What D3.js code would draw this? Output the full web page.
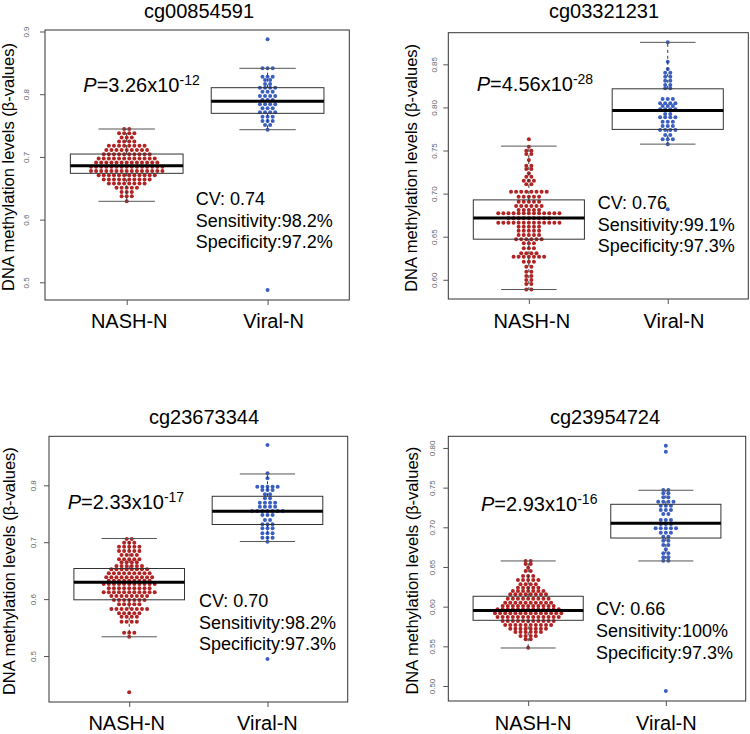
<!DOCTYPE html>
<html><head><meta charset="utf-8">
<script src="https://cdn.jsdelivr.net/npm/d3@7/dist/d3.min.js"></script>
<style>body{margin:0;background:#fff}svg{display:block}</style>
</head><body><svg id="chart" width="750" height="734"></svg>
<script>
// ---------- DATA ----------
const groups = ["NASH-N", "Viral-N"];
const probes = ["cg00854591", "cg03321231", "cg23673344", "cg23954724"];
const pMantissa = ["3.26", "4.56", "2.33", "2.93"];
const pExponent = ["-12", "-28", "-17", "-16"];
const cvValues = ["0.74", "0.76", "0.70", "0.66"];
const sensitivity = ["98.2%", "99.1%", "98.2%", "100%"];
const specificity = ["97.2%", "97.3%", "97.3%", "97.3%"];
const yTicks = [[0.5,0.6,0.7,0.8,0.9],[0.60,0.65,0.70,0.75,0.80,0.85],[0.5,0.6,0.7,0.8],[0.50,0.55,0.60,0.65,0.70,0.75,0.80]];
const yTickFormats = [".1f", ".2f", ".1f", ".2f"];
const yDomains = [[0.4718,0.9024],[0.5777,0.8867],[0.4192,0.8861],[0.4811,0.8147]];

// box statistics: [lower whisker, Q1, median, Q3, upper whisker]
const nashBox = [[0.6292,0.6738,0.686,0.7046,0.7445],[0.5887,0.6471,0.6718,0.6927,0.7551],[0.5338,0.5988,0.6297,0.6538,0.7065],[0.5479,0.5828,0.595,0.6131,0.6576]];
const viralBox = [[0.7434,0.7695,0.7887,0.8104,0.8413],[0.7574,0.7745,0.7965,0.8216,0.8755],[0.7012,0.7311,0.7543,0.7807,0.8199],[0.6576,0.6865,0.705,0.729,0.7467]];

// beeswarm rows: methylation value of each row and number of samples in it
const nashValues1 = [0.7445,0.7378,0.7311,0.7244,0.7177,0.7110,0.7043,0.6976,0.6909,0.6842,0.6775,0.6708,0.6641,0.6574,0.6507,0.6440,0.6373,0.6292];
const nashCounts1 = [2,4,3,4,8,9,10,12,13,15,15,12,10,8,5,3,3,1];
const viralValues1 = [0.8876,0.8413,0.8279,0.8226,0.8163,0.8104,0.8040,0.7971,0.7907,0.7839,0.7775,0.7711,0.7641,0.7573,0.7509,0.7434,0.4877];
const viralCounts1 = [1,3,3,2,2,4,3,4,3,4,3,4,3,3,2,1,1];

const nashValues2 = [0.7630,0.7544,0.7498,0.7459,0.7390,0.7324,0.7285,0.7235,0.7196,0.7150,0.7108,0.7022,0.6964,0.6906,0.6856,0.6810,0.6771,0.6713,0.6662,0.6616,0.6570,0.6520,0.6470,0.6423,0.6365,0.6307,0.6268,0.6210,0.6152,0.6094,0.6044,0.5998,0.5950,0.5887];
const nashCounts2 = [1,1,2,2,1,2,2,1,2,3,2,8,5,5,6,5,13,9,13,5,5,5,6,3,3,4,7,3,2,2,2,2,2,2];
const viralValues2 = [0.8755,0.8530,0.8445,0.8403,0.8356,0.8310,0.8260,0.8222,0.8097,0.8048,0.8016,0.7978,0.7923,0.7885,0.7834,0.7784,0.7738,0.7680,0.7630,0.7572,0.6818];
const viralCounts2 = [1,1,1,2,2,2,2,2,3,4,3,4,2,4,3,3,4,2,3,1,1];

const nashValues3 = [0.7056,0.6991,0.6921,0.6845,0.6775,0.6699,0.6647,0.6582,0.6524,0.6453,0.6383,0.6323,0.6265,0.6190,0.6120,0.6054,0.5984,0.5909,0.5826,0.5750,0.5691,0.5603,0.5409,0.5339,0.4362];
const nashCounts3 = [2,3,5,5,4,5,4,6,8,9,10,9,11,9,11,8,7,5,8,5,4,4,3,1,1];
const viralValues3 = [0.8708,0.8211,0.8123,0.7975,0.7917,0.7842,0.7772,0.7694,0.7624,0.7548,0.7478,0.7390,0.7315,0.7244,0.7156,0.7079,0.7009,0.4947];
const viralCounts3 = [1,1,1,5,3,2,2,4,4,7,3,2,3,3,3,3,1,1];

const nashValues4 = [0.6576,0.6538,0.6491,0.6450,0.6387,0.6336,0.6282,0.6239,0.6197,0.6156,0.6100,0.6050,0.6008,0.5967,0.5916,0.5870,0.5819,0.5769,0.5722,0.5681,0.5630,0.5589,0.5483];
const nashCounts4 = [2,2,1,2,3,5,4,5,7,8,9,10,11,13,14,13,11,10,8,6,4,2,1];
const viralValues4 = [0.8029,0.7953,0.7471,0.7429,0.7379,0.7323,0.7273,0.7218,0.7168,0.7092,0.7042,0.6988,0.6932,0.6882,0.6831,0.6777,0.6723,0.6673,0.6622,0.6579,0.4937];
const viralCounts4 = [1,1,2,2,2,4,3,3,2,3,3,5,3,2,2,2,1,2,2,2,1];

// ---------- LAYOUT ----------
const layout = [
  {x0:45,   x1:349.3, y0:30,    y1:300, titleX:199, titleY:17.5,  yTitleX:8.3,   tickLabX:26.5,  pX:83.3,  pY:92,    statX:195.7, statY:205,   xLabY:328.3, xLabDx:[2,5.5]},
  {x0:448.3,x1:748.3, y0:32.7,  y1:299, titleX:604, titleY:18,    yTitleX:410.8, tickLabX:434.3, pX:476.7, pY:90.5,  statX:597.7, statY:209,   xLabY:328.3, xLabDx:[2.4,5.7]},
  {x0:49,   x1:347.7, y0:436.3, y1:702, titleX:204, titleY:423.7, yTitleX:9.5,   tickLabX:32.8,  pX:67.7,  pY:508.7, statX:199,   statY:607,   xLabY:730,   xLabDx:[-3,-0.6]},
  {x0:448.3,x1:745.7, y0:436.3, y1:701, titleX:605, titleY:423.7, yTitleX:412.5, tickLabX:432,   pX:481,   pY:511,   statX:596,   statY:615.3, xLabY:730,   xLabDx:[4.4,0]}
];
const FONT = "'Liberation Sans', Arial, Helvetica, sans-serif";
const colors = ["#b22424", "#3a5fc0"];
const R = 2.0, SX = 5.1;

const swarms = [
  [{v:nashValues1,c:nashCounts1},{v:viralValues1,c:viralCounts1}],
  [{v:nashValues2,c:nashCounts2},{v:viralValues2,c:viralCounts2}],
  [{v:nashValues3,c:nashCounts3},{v:viralValues3,c:viralCounts3}],
  [{v:nashValues4,c:nashCounts4},{v:viralValues4,c:viralCounts4}]
];

const svg = d3.select("#chart").style("font-family", FONT);

layout.forEach((L, p) => {
  const g = svg.append("g");
  const x = d3.scaleLinear().domain([0.42, 2.58]).range([L.x0, L.x1]);
  const y = d3.scaleLinear().domain(yDomains[p]).range([L.y1, L.y0]);

  // dots (beeswarm rows, centered)
  swarms[p].forEach((s, gi) => {
    const pts = [];
    s.v.forEach((val, ri) => {
      const n = s.c[ri];
      for (let i = 0; i < n; i++) pts.push({val, off: (i - (n - 1) / 2) * SX});
    });
    g.append("g").selectAll("circle").data(pts).join("circle")
      .attr("cx", d => x(gi + 1) + d.off)
      .attr("cy", d => y(d.val))
      .attr("r", R)
      .attr("fill", colors[gi]);
  });

  // boxes
  [nashBox[p], viralBox[p]].forEach((b, gi) => {
    const cx = x(gi + 1), hw = x(1.4) - x(1), cw = x(1.2) - x(1);
    const bg = g.append("g");
    bg.append("line").attr("x1", cx).attr("x2", cx).attr("y1", y(b[3])).attr("y2", y(b[4]))
      .attr("stroke", "#333").attr("stroke-dasharray", "3,3");
    bg.append("line").attr("x1", cx).attr("x2", cx).attr("y1", y(b[1])).attr("y2", y(b[0]))
      .attr("stroke", "#333").attr("stroke-dasharray", "3,3");
    [b[0], b[4]].forEach(v => bg.append("line").attr("x1", cx - cw).attr("x2", cx + cw)
      .attr("y1", y(v)).attr("y2", y(v)).attr("stroke", "#555").attr("stroke-width", 1));
    bg.append("rect").attr("x", cx - hw).attr("width", 2 * hw)
      .attr("y", y(b[3])).attr("height", y(b[1]) - y(b[3]))
      .attr("fill", "none").attr("stroke", "#333").attr("stroke-width", 1);
    bg.append("line").attr("x1", cx - hw).attr("x2", cx + hw).attr("y1", y(b[2])).attr("y2", y(b[2]))
      .attr("stroke", "#000").attr("stroke-width", 3);
  });

  // frame
  g.append("rect").attr("x", L.x0).attr("y", L.y0).attr("width", L.x1 - L.x0).attr("height", L.y1 - L.y0)
    .attr("fill", "none").attr("stroke", "#333").attr("stroke-width", 1);

  // y axis
  const ya = g.append("g").attr("transform", `translate(${L.x0},0)`)
    .call(d3.axisLeft(y).tickValues(yTicks[p]).tickSize(5).tickFormat(d3.format(yTickFormats[p])));
  ya.select(".domain").remove();
  ya.selectAll("line").attr("stroke", "#555");
  ya.selectAll("text").attr("x", 0).attr("y", 0).attr("dy", "0.35em")
    .attr("text-anchor", "middle")
    .attr("transform", `translate(${L.tickLabX - L.x0},0) rotate(-90)`)
    .attr("font-size", 8).attr("fill", "#666").attr("font-family", FONT);

  // x axis
  const xa = g.append("g").attr("transform", `translate(0,${L.y1})`)
    .call(d3.axisBottom(x).tickValues([1, 2]).tickSize(5).tickFormat((d, i) => groups[i]));
  xa.select(".domain").remove();
  xa.selectAll("line").attr("stroke", "#555");
  xa.selectAll("text").attr("y", L.xLabY - L.y1).attr("dy", 0)
    .attr("dx", (d, i) => L.xLabDx[i])
    .attr("font-size", 20).attr("fill", "#000").attr("font-family", FONT);

  // y title
  g.append("text").attr("transform", `translate(${L.yTitleX},${(L.y0 + L.y1) / 2 + 2}) rotate(-90)`)
    .attr("dy", "0.35em").attr("text-anchor", "middle").attr("font-size", 16.5)
    .text("DNA methylation levels (β-values)");

  // title
  g.append("text").attr("x", L.titleX).attr("y", L.titleY).attr("text-anchor", "middle")
    .attr("font-size", 20).text(probes[p]);

  // P value
  const pt = g.append("text").attr("x", L.pX).attr("y", L.pY).attr("font-size", 20);
  pt.append("tspan").attr("font-style", "italic").text("P");
  pt.append("tspan").text("=" + pMantissa[p] + "x10");
  pt.append("tspan").attr("font-size", 14).attr("dy", -7).text(pExponent[p]);

  // stats
  const lines = ["CV: " + cvValues[p], "Sensitivity:" + sensitivity[p], "Specificity:" + specificity[p]];
  lines.forEach((t, i) => g.append("text").attr("x", L.statX).attr("y", L.statY + i * 21.7)
    .attr("font-size", 18).text(t));
});
</script></body></html>
